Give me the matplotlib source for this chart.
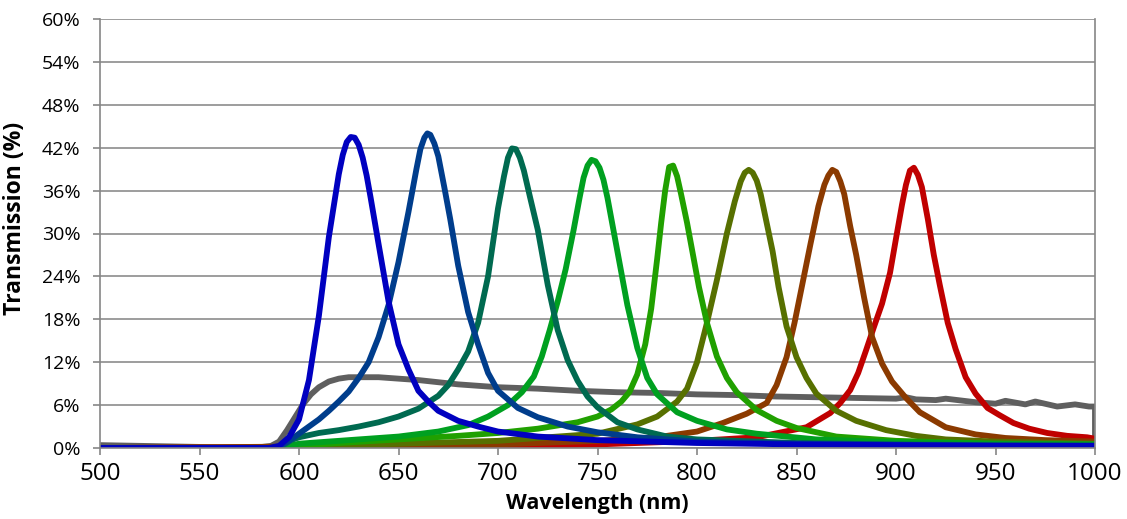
import matplotlib.pyplot as plt

# Data (wavelength in nm, transmission in %)
wl_blue = [500, 550, 585, 590, 595, 600, 605, 610, 615, 620, 622, 624, 626, 628, 630, 632, 634, 636,
           640, 645, 650, 655, 660, 665, 670, 680, 690, 700, 720, 750, 800, 850, 900, 950, 1000]
t_blue = [0, 0, 0, 0.3, 1.5, 4.0, 9.5, 18.5, 29.5, 38.3, 41, 42.8, 43.5, 43.4, 42.4, 40.6, 38.1, 35,
          28.5, 20.5, 14.5, 11, 8, 6.5, 5.2, 3.8, 3.0, 2.3, 1.6, 1.1, 0.7, 0.5, 0.4, 0.3, 0.3]

wl_navy = [500, 585, 590, 595, 600, 605, 610, 615, 620, 625, 630, 635, 640, 645, 650, 655, 659, 661,
           663, 664.5, 666, 668, 670, 673, 676, 680, 685, 690, 695, 700, 710, 720, 735, 750, 770, 800,
           850, 900, 950, 1000]
t_navy = [0, 0, 0.2, 1.0, 2.0, 3.0, 4.0, 5.2, 6.5, 7.9, 9.8, 12, 15.5, 20, 26, 33, 39, 41.8,
          43.4, 44, 43.8, 42.6, 40.8, 36.5, 32, 25.5, 19, 14.5, 10.5, 8, 5.6, 4.3, 3.0, 2.2, 1.5, 0.9,
          0.6, 0.45, 0.35, 0.3]

wl_teal = [500, 588, 592, 596, 600, 610, 620, 630, 640, 650, 660, 670, 675, 680, 685, 690, 695, 700,
           703, 705, 707, 709, 711, 713, 716, 720, 725, 730, 735, 740, 745, 750, 760, 770, 785, 800,
           850, 900, 950, 1000]
t_teal = [0, 0, 0.4, 1.1, 1.5, 2.1, 2.5, 3.0, 3.6, 4.4, 5.5, 7.3, 8.8, 11, 13.5, 17.5, 24, 33.5,
          38, 40.6, 41.9, 41.8, 40.6, 38.8, 35.2, 30.5, 22.8, 16.5, 12.3, 9.4, 7.2, 5.7, 3.6, 2.6,
          1.6, 1.2, 0.7, 0.5, 0.4, 0.35]

wl_green1 = [500, 590, 595, 600, 620, 650, 670, 685, 695, 705, 712, 718, 722, 726, 730, 734, 738,
             741, 743, 745, 747, 749, 751, 753, 755, 758, 760, 765, 770, 775, 780, 790, 800, 815,
             830, 860, 900, 950, 1000]
t_green1 = [0, 0, 0.3, 0.6, 1.0, 1.6, 2.3, 3.2, 4.4, 6.0, 7.8, 10.0, 12.8, 16.5, 20.5, 25, 30.5,
            35, 37.8, 39.5, 40.3, 40.1, 39.2, 37.5, 35, 30.5, 27.5, 20, 14, 9.8, 7.5, 5.0, 3.8,
            2.6, 2.0, 1.2, 0.8, 0.6, 0.5]

wl_green2 = [500, 590, 600, 620, 650, 680, 700, 720, 740, 750, 757, 762, 766, 770, 774, 777, 780,
             782, 784, 786, 788, 790, 792, 795, 798, 801, 805, 810, 815, 820, 830, 840, 850, 870,
             900, 950, 1000]
t_green2 = [0, 0, 0.3, 0.7, 1.2, 1.7, 2.1, 2.7, 3.6, 4.4, 5.4, 6.5, 7.8, 10.3, 14.5, 19.5, 26.5,
            31.5, 36, 39.3, 39.5, 38, 35.5, 31.5, 27, 22.5, 17.5, 12.8, 9.8, 7.8, 5.3, 3.8, 2.8,
            1.6, 1.0, 0.6, 0.5]

wl_olive = [500, 590, 600, 650, 700, 750, 770, 780, 790, 795, 800, 805, 810, 815, 819, 822, 824,
            826, 828, 830, 832, 835, 838, 841, 845, 850, 855, 860, 870, 880, 895, 910, 925, 950,
            1000]
t_olive = [0, 0, 0.2, 0.6, 1.0, 2.0, 3.3, 4.4, 6.5, 8.3, 12, 17.5, 23.5, 30, 34.5, 37.3, 38.5,
           38.9, 38.5, 37.4, 35.5, 31.5, 27.5, 22.5, 17, 12.7, 9.8, 7.6, 5.2, 3.8, 2.5, 1.7, 1.2,
           0.9, 0.6]

wl_brown = [500, 600, 650, 700, 750, 780, 800, 813, 825, 835, 840, 845, 849, 853, 857, 861, 864,
            866, 868, 870, 872, 874, 877, 880, 884, 888, 893, 898, 905, 912, 925, 940, 955, 975,
            1000]
t_brown = [0, 0.2, 0.3, 0.5, 1.0, 1.5, 2.3, 3.5, 4.8, 6.3, 8.8, 12.7, 17.5, 23, 28.5, 33.8, 36.8,
           38.1, 38.9, 38.6, 37.3, 35.5, 31, 27, 21, 15.5, 11.8, 9.3, 7, 5, 2.9, 1.9, 1.4, 1.1,
           0.9]

wl_red = [500, 600, 700, 750, 800, 830, 855, 867, 872, 877, 881, 885, 889, 893, 897, 900, 903, 905,
          907, 909, 911, 913, 916, 919, 922, 926, 930, 935, 940, 946, 952, 959, 967, 976, 986, 996,
          1000]
t_red = [0, 0.1, 0.2, 0.5, 1.0, 1.5, 2.9, 4.9, 6.3, 8.1, 10.5, 13.7, 17, 20.2, 24.5, 29.3, 34,
         36.8, 38.8, 39.2, 38.2, 36.5, 32, 27, 22.8, 17.5, 13.8, 9.9, 7.6, 5.6, 4.6, 3.5, 2.7, 2.1,
         1.7, 1.5, 1.3]

wl_gray = [500, 520, 540, 560, 580, 586, 590, 594, 598, 602, 606, 610, 615, 620, 625, 630, 640, 650,
           660, 670, 680, 690, 700, 720, 740, 760, 780, 800, 820, 840, 860, 880, 900, 905, 910, 920,
           925, 940, 950, 955, 965, 970, 981, 990, 997, 1000, 1000]
t_gray = [0.4, 0.3, 0.2, 0.1, 0.1, 0.3, 0.9, 2.5, 4.3, 6.1, 7.5, 8.5, 9.3, 9.7, 9.9, 9.9, 9.9, 9.7,
          9.5, 9.2, 8.9, 8.7, 8.5, 8.3, 8.0, 7.8, 7.7, 7.5, 7.4, 7.2, 7.1, 7.0, 6.9, 7.1, 6.8, 6.7,
          6.9, 6.4, 6.2, 6.6, 6.1, 6.5, 5.8, 6.1, 5.8, 5.8, 0]

series = [
    (wl_gray, t_gray, '#5f5f5f'),
    (wl_red, t_red, '#c00000'),
    (wl_brown, t_brown, '#8b3a00'),
    (wl_olive, t_olive, '#577000'),
    (wl_green2, t_green2, '#20a000'),
    (wl_green1, t_green1, '#00a020'),
    (wl_teal, t_teal, '#006a50'),
    (wl_navy, t_navy, '#003d8c'),
    (wl_blue, t_blue, '#0000c0'),
]

plt.rcParams['font.family'] = ['Open Sans', 'DejaVu Sans']

fig = plt.figure(figsize=(11.27, 5.19), dpi=100)
ax = fig.add_axes([100 / 1127, 71 / 519, 995 / 1127, 429 / 519])

for x, y, c in series:
    ax.plot(x, y, color=c, lw=4.2, solid_joinstyle='round', solid_capstyle='round')

ax.set_xlim(500, 1000)
ax.set_ylim(0, 60)
ax.set_xticks(range(500, 1001, 50))
ax.set_yticks(range(0, 61, 6))
ax.set_yticklabels([f'{v}%' for v in range(0, 61, 6)])
ax.yaxis.grid(True, color='#8c8c8c', lw=1.2)
ax.set_axisbelow(True)
for s in ax.spines.values():
    s.set_color('#868686')
    s.set_linewidth(1.2)
ax.spines['top'].set_visible(False)
ax.tick_params(axis='x', direction='out', length=5, width=1.2, color='#868686',
               labelsize=17.5, pad=5)
ax.tick_params(axis='y', direction='out', length=5, width=1.2, color='#868686',
               labelsize=14, pad=9)

ax.set_xlabel('Wavelength (nm)', fontsize=15.5, fontweight='bold')
ax.xaxis.set_label_coords(0.5, -0.105)
ax.set_ylabel('Transmission (%)', fontsize=16.5, fontweight='bold')
ax.yaxis.set_label_coords(-0.073, 0.535)

fig.savefig('out.png', dpi=100)
